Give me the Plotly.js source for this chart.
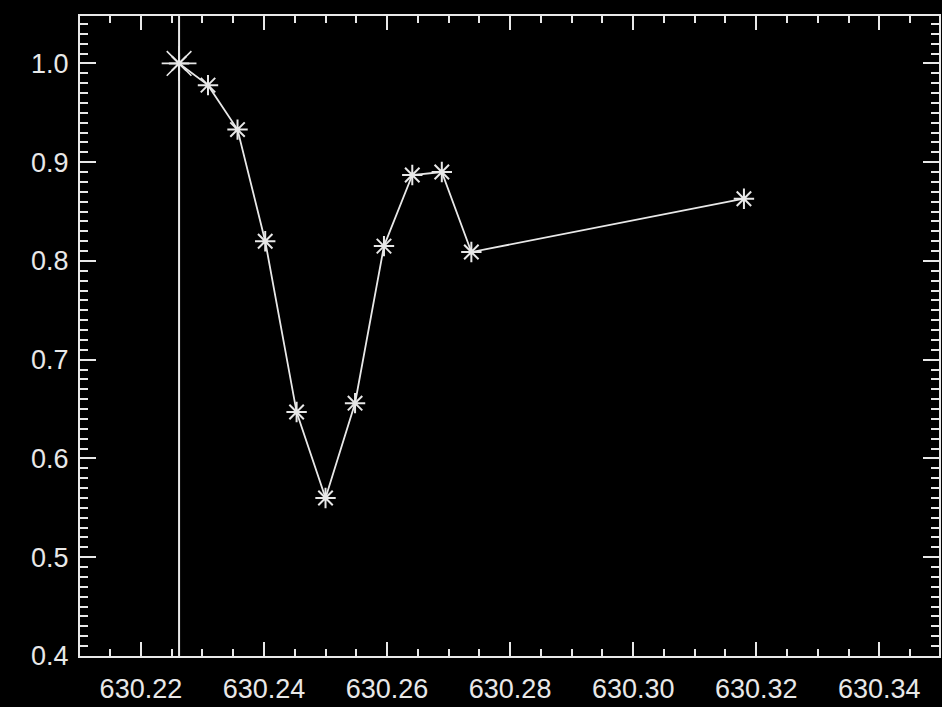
<!DOCTYPE html>
<html>
<head>
<meta charset="utf-8">
<script src="https://cdn.plot.ly/plotly-3.0.1.min.js"></script>
<style>
html,body{margin:0;padding:0;background:#000;}
#chart{width:942px;height:707px;}
</style>
</head>
<body>
<div id="chart"></div>
<script>
// Wavelength (nm) and normalized intensity
const wavelength = [630.2262, 630.2309, 630.2357, 630.2402, 630.2453, 630.2500, 630.2548, 630.2595, 630.2641, 630.2689, 630.2737, 630.3180];
const intensity  = [1.000, 0.978, 0.933, 0.820, 0.647, 0.560, 0.656, 0.815, 0.887, 0.890, 0.809, 0.863];

const xTickFormat = '.2f';
const yTickFormat = '.1f';

const fg = '#e8e8e8';
const tickFont = {family: 'Liberation Sans, Arial, sans-serif', size: 27, color: fg};

const traces = [
  {
    x: wavelength, y: intensity,
    mode: 'lines+markers', type: 'scatter',
    line: {color: fg, width: 1.8},
    marker: {symbol: 'asterisk-open', size: 17, color: fg, line: {color: fg, width: 2}},
    hoverinfo: 'x+y', showlegend: false
  },
  {
    x: [wavelength[0]], y: [intensity[0]],
    mode: 'markers', type: 'scatter',
    marker: {symbol: 'asterisk-open', size: 29, color: fg, line: {color: fg, width: 1.6}},
    hoverinfo: 'skip', showlegend: false
  }
];

const layout = {
  width: 942, height: 707,
  paper_bgcolor: '#000', plot_bgcolor: '#000',
  margin: {l: 80, r: 3, t: 16, b: 51, pad: 0},
  showlegend: false,
  xaxis: {
    range: [630.2101, 630.3497],
    dtick: 0.02, tickformat: xTickFormat,
    ticks: 'inside', ticklen: 14, tickwidth: 2, tickcolor: fg,
    minor: {dtick: 0.005, ticks: 'inside', ticklen: 7, tickwidth: 2, tickcolor: fg},
    showline: true, linecolor: fg, linewidth: 2, mirror: 'ticks',
    showgrid: false, zeroline: false,
    tickfont: tickFont, ticklabelstandoff: 8
  },
  yaxis: {
    range: [0.4, 1.048],
    dtick: 0.1, tickformat: yTickFormat,
    ticks: 'inside', ticklen: 16, tickwidth: 2, tickcolor: fg,
    minor: {dtick: 0.01, ticks: 'inside', ticklen: 8, tickwidth: 2, tickcolor: fg},
    showline: true, linecolor: fg, linewidth: 2, mirror: 'ticks',
    showgrid: false, zeroline: false,
    tickfont: tickFont, ticklabelstandoff: 4
  },
  shapes: [{
    type: 'line', xref: 'x', yref: 'paper',
    x0: wavelength[0], x1: wavelength[0], y0: 0, y1: 1,
    line: {color: fg, width: 2}
  }]
};

Plotly.newPlot('chart', traces, layout, {displayModeBar: false, staticPlot: true});
</script>
</body>
</html>
